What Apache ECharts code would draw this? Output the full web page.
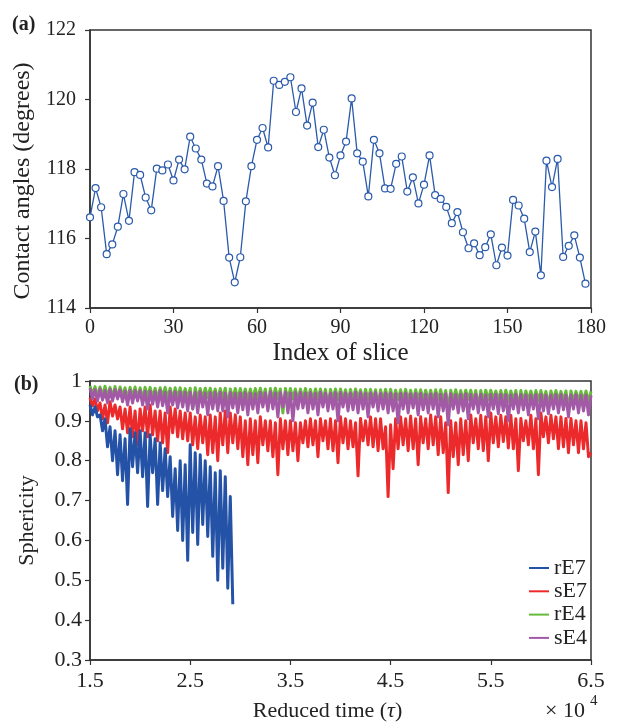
<!DOCTYPE html>
<html>
<head>
<meta charset="utf-8">
<script src="https://cdn.jsdelivr.net/npm/echarts@6/dist/echarts.min.js"></script>
<style>
  html, body { margin: 0; padding: 0; background: #fff; }
  #chart { width: 617px; height: 724px; }
</style>
</head>
<body>
<div id="chart"></div>
<script>
// (a) contact angle per slice, slices 0..178 step 2
const sliceIndex = [];
for (let i = 0; i < 90; i++) sliceIndex.push(i * 2);
const contactAngles = [
  116.61, 117.45, 116.90, 115.55, 115.83, 116.34, 117.28, 116.51, 117.91, 117.83,
  117.18, 116.81, 118.01, 117.96, 118.13, 117.67, 118.27, 117.99, 118.93, 118.59,
  118.27, 117.58, 117.50, 118.08, 117.08, 115.45, 114.74, 115.46, 117.07, 118.08,
  118.84, 119.18, 118.62, 120.54, 120.42, 120.51, 120.64, 119.64, 120.32, 119.25,
  119.91, 118.63, 119.13, 118.33, 117.82, 118.39, 118.79, 120.03, 118.45, 118.21,
  117.21, 118.84, 118.45, 117.44, 117.43, 118.15, 118.36, 117.35, 117.76, 117.01,
  117.55, 118.39, 117.25, 117.14, 116.91, 116.44, 116.76, 116.18, 115.72, 115.86,
  115.52, 115.75, 116.12, 115.23, 115.74, 115.51, 117.11, 116.95, 116.57, 115.61,
  116.20, 114.94, 118.24, 117.48, 118.29, 115.47, 115.79, 116.09, 115.45, 114.70
];
const angleTicks = [114, 116, 118, 120, 122];

// (b) sphericity, sampled every 0.025 (x 10^4) of reduced time from 1.5
const tStart = 1.5;
const tStep = 0.025;
const rE7 = [
  0.94, 0.915, 0.935, 0.91,   0.915, 0.875, 0.905, 0.835,  0.885, 0.80, 0.875, 0.765,
  0.865, 0.75, 0.855, 0.69,   0.88, 0.785, 0.87, 0.77,     0.875, 0.76, 0.87, 0.685,
  0.865, 0.77, 0.855, 0.69,   0.845, 0.725, 0.83, 0.71,    0.81, 0.66, 0.78, 0.625,
  0.80, 0.60, 0.79, 0.55,     0.84, 0.62, 0.82, 0.59,      0.815, 0.64, 0.80, 0.61,
  0.785, 0.56, 0.77, 0.50,    0.775, 0.53, 0.76, 0.48,     0.71, 0.44
];
const sE7 = [
  0.958, 0.938, 0.955, 0.925,  0.945, 0.905, 0.94, 0.895,  0.948, 0.912, 0.94, 0.905,
  0.935, 0.88, 0.93, 0.87,     0.935, 0.86, 0.925, 0.84,   0.93, 0.875, 0.935, 0.86,
  0.94, 0.865, 0.925, 0.85,    0.925, 0.845, 0.92, 0.82,   0.935, 0.87, 0.93, 0.86,
  0.925, 0.855, 0.92, 0.85,    0.92, 0.84, 0.91, 0.83,     0.915, 0.845, 0.91, 0.815,
  0.915, 0.82, 0.91, 0.80,     0.92, 0.84, 0.925, 0.82,    0.92, 0.845, 0.915, 0.83,
  0.91, 0.81, 0.90, 0.79,      0.905, 0.815, 0.90, 0.795,  0.91, 0.84, 0.90, 0.825,
  0.90, 0.81, 0.895, 0.765,    0.905, 0.83, 0.90, 0.815,   0.90, 0.825, 0.895, 0.80,
  0.895, 0.845, 0.90, 0.835,   0.905, 0.84, 0.90, 0.81,    0.905, 0.85, 0.90, 0.83,
  0.905, 0.825, 0.90, 0.795,   0.91, 0.845, 0.905, 0.83,   0.90, 0.835, 0.895, 0.762,
  0.906, 0.85, 0.90, 0.84,     0.91, 0.835, 0.905, 0.825,  0.905, 0.83, 0.885, 0.71,
  0.89, 0.78, 0.905, 0.83,     0.91, 0.84, 0.905, 0.825,   0.912, 0.83, 0.905, 0.79,
  0.91, 0.845, 0.905, 0.83,    0.915, 0.84, 0.91, 0.815,   0.91, 0.82, 0.895, 0.72,
  0.90, 0.81, 0.895, 0.79,     0.905, 0.815, 0.90, 0.80,   0.915, 0.845, 0.905, 0.83,
  0.914, 0.825, 0.91, 0.80,    0.92, 0.845, 0.91, 0.835,   0.914, 0.848, 0.91, 0.832,
  0.914, 0.83, 0.905, 0.775,   0.906, 0.85, 0.90, 0.84,    0.914, 0.83, 0.905, 0.765,
  0.92, 0.86, 0.91, 0.845,     0.914, 0.855, 0.91, 0.83,   0.91, 0.835, 0.906, 0.82,
  0.906, 0.84, 0.90, 0.82,     0.90, 0.83, 0.895, 0.81,    0.82
];
const rE4 = [
  0.988, 0.965, 0.986, 0.96,   0.985, 0.962, 0.987, 0.96,  0.984, 0.96, 0.986, 0.958,
  0.985, 0.962, 0.983, 0.955,  0.984, 0.96, 0.985, 0.958,  0.983, 0.955, 0.984, 0.96,
  0.984, 0.958, 0.982, 0.955,  0.983, 0.96, 0.984, 0.957,  0.982, 0.955, 0.983, 0.958,
  0.983, 0.958, 0.981, 0.955,  0.982, 0.93, 0.983, 0.956,  0.981, 0.955, 0.982, 0.958,
  0.982, 0.957, 0.98, 0.952,   0.981, 0.955, 0.982, 0.935, 0.98, 0.956, 0.981, 0.954,
  0.981, 0.955, 0.98, 0.952,   0.98, 0.954, 0.981, 0.956,  0.982, 0.955, 0.98, 0.93,
  0.981, 0.953, 0.982, 0.955,  0.98, 0.92, 0.981, 0.955,   0.981, 0.955, 0.98, 0.952,
  0.98, 0.954, 0.981, 0.956,   0.979, 0.952, 0.98, 0.955,  0.98, 0.953, 0.979, 0.94,
  0.979, 0.955, 0.98, 0.952,   0.98, 0.954, 0.978, 0.95,   0.979, 0.952, 0.98, 0.955,
  0.978, 0.95, 0.979, 0.953,   0.979, 0.953, 0.978, 0.94,  0.978, 0.952, 0.979, 0.95,
  0.979, 0.95, 0.977, 0.953,   0.978, 0.952, 0.979, 0.95,  0.977, 0.95, 0.978, 0.953,
  0.978, 0.952, 0.977, 0.95,   0.977, 0.95, 0.978, 0.952,  0.978, 0.95, 0.976, 0.93,
  0.977, 0.952, 0.978, 0.95,   0.976, 0.95, 0.977, 0.953,  0.977, 0.948, 0.976, 0.935,
  0.976, 0.95, 0.977, 0.952,   0.977, 0.953, 0.975, 0.95,  0.976, 0.95, 0.977, 0.948,
  0.975, 0.952, 0.976, 0.935,  0.976, 0.95, 0.975, 0.952,  0.975, 0.948, 0.976, 0.95,
  0.976, 0.95, 0.974, 0.94,    0.975, 0.952, 0.976, 0.95,  0.974, 0.95, 0.975, 0.93,
  0.975, 0.948, 0.974, 0.95,   0.974, 0.95, 0.975, 0.948,  0.974
];
const sE4 = [
  0.982, 0.955, 0.978, 0.95,   0.98, 0.952, 0.976, 0.945,  0.979, 0.95, 0.978, 0.955,
  0.978, 0.948, 0.975, 0.94,   0.977, 0.945, 0.976, 0.95,  0.976, 0.94, 0.974, 0.93,
  0.975, 0.942, 0.973, 0.935,  0.976, 0.938, 0.972, 0.92,  0.974, 0.94, 0.973, 0.932,
  0.973, 0.935, 0.972, 0.925,  0.972, 0.93, 0.971, 0.92,   0.973, 0.935, 0.97, 0.915,
  0.971, 0.93, 0.972, 0.925,   0.972, 0.925, 0.97, 0.91,   0.971, 0.932, 0.969, 0.92,
  0.97, 0.928, 0.971, 0.915,   0.97, 0.93, 0.968, 0.92,    0.972, 0.935, 0.97, 0.925,
  0.973, 0.93, 0.97, 0.91,     0.971, 0.935, 0.972, 0.92,  0.97, 0.90, 0.971, 0.93,
  0.972, 0.932, 0.97, 0.92,    0.971, 0.93, 0.969, 0.915,  0.972, 0.935, 0.97, 0.925,
  0.97, 0.93, 0.971, 0.90,     0.971, 0.935, 0.97, 0.925,  0.97, 0.928, 0.972, 0.92,
  0.971, 0.93, 0.969, 0.91,    0.97, 0.935, 0.971, 0.925,  0.969, 0.93, 0.97, 0.92,
  0.97, 0.925, 0.968, 0.895,   0.969, 0.93, 0.97, 0.92,    0.968, 0.932, 0.969, 0.915,
  0.969, 0.928, 0.967, 0.92,   0.968, 0.93, 0.969, 0.91,   0.967, 0.925, 0.968, 0.89,
  0.968, 0.93, 0.966, 0.92,    0.967, 0.925, 0.968, 0.905, 0.966, 0.93, 0.967, 0.92,
  0.967, 0.928, 0.965, 0.91,   0.966, 0.93, 0.967, 0.918,  0.967, 0.925, 0.966, 0.90,
  0.965, 0.93, 0.967, 0.92,    0.966, 0.928, 0.965, 0.915, 0.965, 0.93, 0.966, 0.905,
  0.966, 0.925, 0.965, 0.918,  0.965, 0.93, 0.966, 0.92,   0.966, 0.928, 0.964, 0.91,
  0.965, 0.93, 0.966, 0.92,    0.964, 0.925, 0.965, 0.915, 0.964
];
const timeTicks = [1.5, 2.5, 3.5, 4.5, 5.5, 6.5];
const sphericityTicks = [0.3, 0.4, 0.5, 0.6, 0.7, 0.8, 0.9, 1];

const colors = { rE7: '#2452a6', sE7: '#ec2a2b', rE4: '#66bb3a', sE4: '#a25aa6' };
const serif = "'Liberation Serif', 'DejaVu Serif', serif";
const axisColor = '#333';

function toPairs(vals) {
  return vals.map((v, i) => [tStart + i * tStep, v]);
}

const chart = echarts.init(document.getElementById('chart'));

const axisCommon = {
  axisLine: { show: true, onZero: false, lineStyle: { color: axisColor, width: 1.5 } },
  axisTick: { show: true, inside: false, length: 5, lineStyle: { color: axisColor, width: 1.2 } },
  splitLine: { show: false },
  nameTextStyle: { fontFamily: serif, fontSize: 22, color: '#222' }
};

// thick-ish strokes so the dense noisy traces read as bands, like the original
function lineSeries(name, vals, z) {
  return {
    name: name,
    type: 'line',
    xAxisIndex: 1,
    yAxisIndex: 1,
    data: toPairs(vals),
    showSymbol: false,
    symbol: 'none',
    color: colors[name],
    lineStyle: { width: 3, color: colors[name], join: 'round' },
    z: z,
    animation: false
  };
}

chart.setOption({
  animation: false,
  grid: [
    { left: 90, right: 26, top: 30, height: 278, show: true, borderColor: axisColor, borderWidth: 1.5 },
    { left: 90, right: 26, top: 381, height: 279, show: true, borderColor: axisColor, borderWidth: 1.5 }
  ],
  legend: {
    data: ['rE7', 'sE7', 'rE4', 'sE4'],
    orient: 'vertical',
    left: 524,
    top: 552,
    icon: 'rect',
    itemWidth: 20,
    itemHeight: 2,
    itemGap: 1.3,
    textStyle: { fontFamily: serif, fontSize: 22, color: '#222', lineHeight: 20 }
  },
  xAxis: [
    Object.assign({}, axisCommon, {
      gridIndex: 0, type: 'value', min: 0, max: 180, interval: 30,
      name: 'Index of slice', nameLocation: 'middle', nameGap: 33,
      nameTextStyle: { fontFamily: serif, fontSize: 25, color: '#222' },
      axisLabel: { fontFamily: serif, fontSize: 20, color: '#222', margin: 10 }
    }),
    Object.assign({}, axisCommon, {
      gridIndex: 1, type: 'value', min: timeTicks[0], max: timeTicks[timeTicks.length - 1], interval: 1,
      name: 'Reduced time ({i|τ})', nameLocation: 'middle', nameGap: 40,
      nameTextStyle: {
        fontFamily: serif, fontSize: 22, color: '#222', padding: [0, 26, 0, 0],
        rich: { i: { fontFamily: serif, fontSize: 22, fontStyle: 'italic', color: '#222' } }
      },
      axisLabel: { fontFamily: serif, fontSize: 22, color: '#222', margin: 10, formatter: v => v.toFixed(1) }
    })
  ],
  yAxis: [
    Object.assign({}, axisCommon, {
      gridIndex: 0, type: 'value', min: angleTicks[0], max: angleTicks[angleTicks.length - 1], interval: 2,
      name: 'Contact angles (degrees)', nameLocation: 'middle', nameGap: 52,
      nameTextStyle: { fontFamily: serif, fontSize: 24, color: '#222', padding: [0, 24, 0, 0] },
      axisLabel: { fontFamily: serif, fontSize: 20, color: '#222', margin: 14 }
    }),
    Object.assign({}, axisCommon, {
      gridIndex: 1, type: 'value', min: sphericityTicks[0], max: 1, interval: 0.1,
      name: 'Sphericity', nameLocation: 'middle', nameGap: 52,
      axisLabel: {
        fontFamily: serif, fontSize: 22, color: '#222', margin: 8,
        formatter: v => String(Math.round(v * 10) / 10)
      }
    })
  ],
  graphic: [
    { type: 'text', left: 12, top: 15, style: { text: '(a)', font: "bold 20px " + serif, fill: '#222' } },
    { type: 'text', left: 14, top: 375, style: { text: '(b)', font: "bold 20px " + serif, fill: '#222' } },
    { type: 'text', left: 545, top: 700, style: { text: '× 10', font: "22px " + serif, fill: '#222' } },
    { type: 'text', left: 590, top: 694, style: { text: '4', font: "15px " + serif, fill: '#222' } }
  ],
  series: [
    {
      type: 'line',
      xAxisIndex: 0,
      yAxisIndex: 0,
      data: sliceIndex.map((x, i) => [x, contactAngles[i]]),
      symbol: 'circle',
      symbolSize: 7,
      color: '#2a5aab',
      lineStyle: { width: 1.3, color: '#2a5aab' },
      itemStyle: { color: '#fff', borderColor: '#2a5aab', borderWidth: 1.2 },
      animation: false
    },
    lineSeries('sE7', sE7, 2),
    lineSeries('rE7', rE7, 3),
    lineSeries('rE4', rE4, 4),
    lineSeries('sE4', sE4, 5)
  ]
});
</script>
</body>
</html>
